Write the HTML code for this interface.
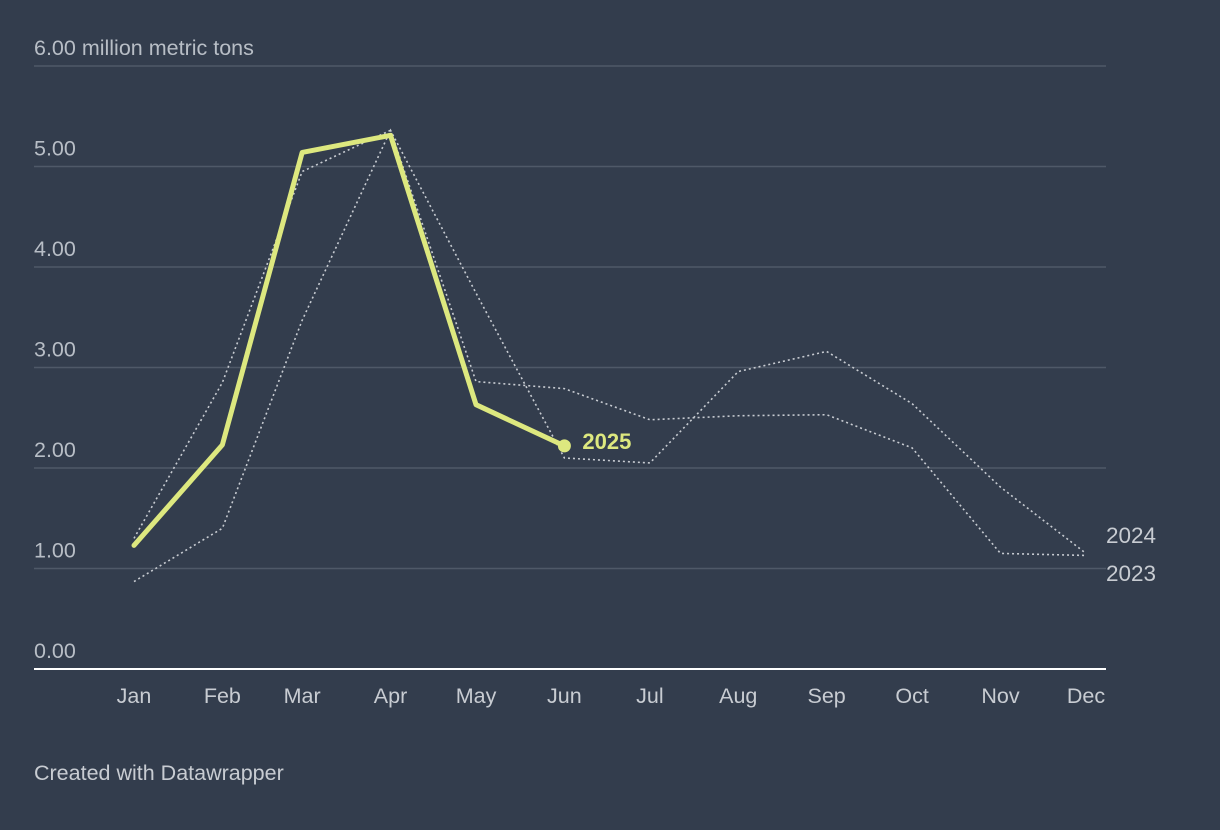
<!DOCTYPE html>
<html><head><meta charset="utf-8"><style>
body{margin:0;background:#333d4d;font-family:"Liberation Sans",sans-serif}
svg{display:block}
</style></head><body>
<svg width="1220" height="830" id="c">
<rect width="1220" height="830" fill="#333d4d"/>
<text x="34" y="780" fill="#c8ccd2" font-size="21.5">Created with Datawrapper</text>
</svg>
<script>
const months=["Jan","Feb","Mar","Apr","May","Jun","Jul","Aug","Sep","Oct","Nov","Dec"];
const monthDays=[31,28,31,30,31,30,31,31,30,31,30,31];
const yTicks=[0,1,2,3,4,5,6];
const s2025=[1.23,2.23,5.14,5.31,2.63,2.22];
const s2024=[0.87,1.40,3.47,5.36,3.74,2.10,2.05,2.96,3.16,2.64,1.81,1.15];
const s2023=[1.30,2.85,4.95,5.36,2.86,2.79,2.48,2.52,2.53,2.20,1.15,1.13];
const svg=document.getElementById('c');const NS='http://www.w3.org/2000/svg';
function mk(t,a){const e=document.createElementNS(NS,t);for(const k in a)e.setAttribute(k,a[k]);svg.appendChild(e);return e;}
const cum=[0];for(let i=0;i<11;i++)cum.push(cum[i]+monthDays[i]);
const x=i=>134+(cum[i]/cum[11])*(1086-134);
const y=v=>669-v*100.5;
yTicks.forEach(t=>{
 if(t>0){const l=mk('line',{x1:34,x2:1106,y1:y(t),y2:y(t),stroke:'#4f5968','stroke-width':1.5});
 
 }
 const tx=mk('text',{x:34,y:y(t)-11,fill:'#b8bec6','font-size':21.5});
 tx.textContent=t.toFixed(2)+(t==6?' million metric tons':'');
 
 
});
const ax=mk('line',{x1:34,x2:1106,y1:669,y2:669,stroke:'#fff','stroke-width':2});


months.forEach((m,i)=>{const t=mk('text',{x:x(i),y:703,fill:'#c8ccd2','font-size':21.5,'text-anchor':'middle'});t.textContent=m;

});
function line(d,attrs,name){const p=mk('polyline',Object.assign({points:d.map((v,i)=>x(i)+','+y(v)).join(' '),fill:'none'},attrs));

}
line(s2024,{stroke:'#c8ccd2','stroke-width':1.6,'stroke-dasharray':'2 3'},'line-2024');
line(s2023,{stroke:'#c8ccd2','stroke-width':1.6,'stroke-dasharray':'2 3'},'line-2023');
line(s2025,{stroke:'#dde87f','stroke-width':5,'stroke-linejoin':'round','stroke-linecap':'round'},'line-2025');
const li=s2025.length-1;
const dot=mk('circle',{cx:x(li),cy:y(s2025[li]),r:6.5,fill:'#dde87f'});


const l25=mk('text',{x:x(li)+18,y:y(s2025[li])+3,fill:'#dde87f','font-size':22,'font-weight':'bold'});l25.textContent='2025';


const l24=mk('text',{x:1106,y:543,fill:'#c8ccd2','font-size':22.5});l24.textContent='2024';


const l23=mk('text',{x:1106,y:581,fill:'#c8ccd2','font-size':22.5});l23.textContent='2023';


</script>
</body></html>
